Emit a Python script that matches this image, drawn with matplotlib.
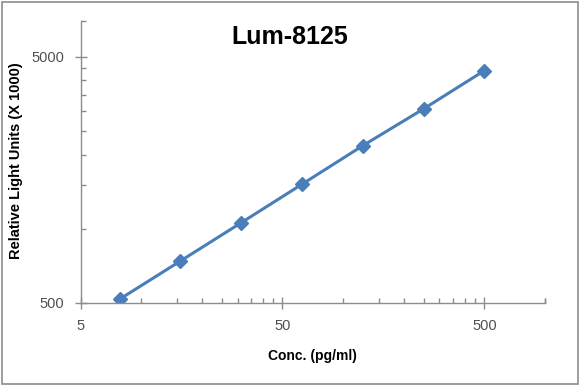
import matplotlib
matplotlib.use('Agg')
import matplotlib.pyplot as plt
from matplotlib.ticker import FixedLocator, FixedFormatter, NullFormatter

conc = [7.8125, 15.625, 31.25, 62.5, 125, 250, 500]
rlu = [517, 739, 1057, 1515, 2173, 3066, 4385]

x_major = [5, 50, 500]
y_major = [500, 5000]
x_minor = [5 * k * 10 ** n for n in range(3) for k in range(2, 10)] + [1000]
y_minor = [500 * k for k in range(2, 10)] + [7000]

plt.rcParams['font.family'] = ['Liberation Sans', 'DejaVu Sans']

fig = plt.figure(figsize=(5.8, 3.86), dpi=100)
ax = fig.add_axes([0.139, 0.2158, 0.8007, 0.7306])

ax.plot(conc, rlu, color='#4A7EBB', lw=2.2, marker='D', ms=7.5,
        markerfacecolor='#4A7EBB', markeredgecolor='#4A7EBB')

ax.set_xscale('log')
ax.set_yscale('log')
ax.set_xlim(5, 1000)
ax.set_ylim(500, 7000)

ax.xaxis.set_major_locator(FixedLocator(x_major))
ax.xaxis.set_major_formatter(FixedFormatter([str(v) for v in x_major]))
ax.xaxis.set_minor_locator(FixedLocator([v for v in x_minor if v <= 1000]))
ax.xaxis.set_minor_formatter(NullFormatter())
ax.yaxis.set_major_locator(FixedLocator(y_major))
ax.yaxis.set_major_formatter(FixedFormatter([str(v) for v in y_major]))
ax.yaxis.set_minor_locator(FixedLocator(y_minor))
ax.yaxis.set_minor_formatter(NullFormatter())

for s in ['top', 'right']:
    ax.spines[s].set_visible(False)
for s in ['left', 'bottom']:
    ax.spines[s].set_color('#8C8C8C')
    ax.spines[s].set_linewidth(1.0)

ax.tick_params(which='major', direction='inout', length=8, width=1.0,
               color='#8C8C8C', labelsize=10.5, labelcolor='#505050', pad=8)
ax.tick_params(which='minor', direction='in', length=3.6, width=1.0,
               color='#8C8C8C')

ax.set_xlabel('Conc. (pg/ml)', fontsize=10, fontweight='bold', labelpad=11)
fig.text(16 / 580, 1 - 161 / 386, 'Relative Light Units (X 1000)', fontsize=10.5,
         fontweight='bold', rotation=90, ha='center', va='center')
fig.text(0.5, 0.905, 'Lum-8125', fontsize=18, fontweight='bold',
         ha='center', va='center')

# grey frame round the chart area
fig.patches.append(plt.Rectangle((0.003, 0.004), 0.993, 0.99, transform=fig.transFigure,
                                 fill=False, edgecolor='#8C8C8C', lw=1.2))

fig.savefig('out.png', dpi=100)
